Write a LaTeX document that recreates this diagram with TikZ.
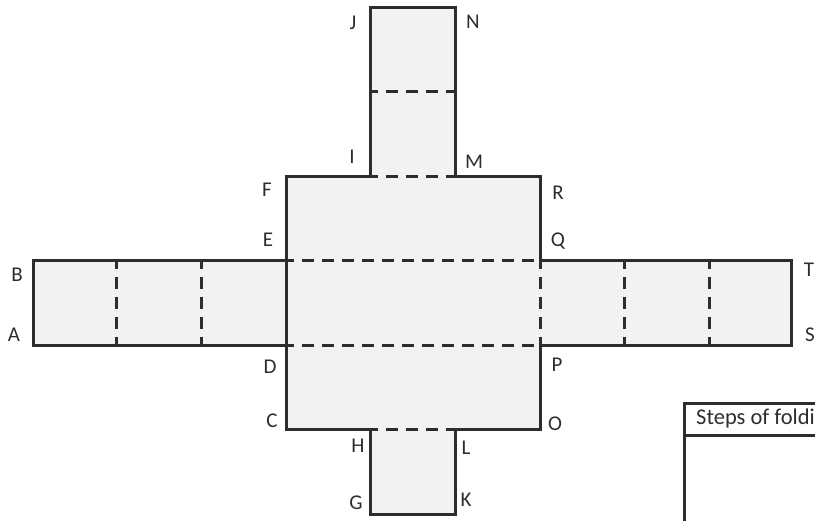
\documentclass[tikz,border=0pt]{standalone}
\usepackage{fontspec}
\setmainfont{Carlito}
\definecolor{netfill}{RGB}{242,242,242}
\definecolor{ink}{RGB}{45,45,45}
\tikzset{
  solidline/.style={draw=ink,line width=3pt,line cap=rect,line join=miter},
  foldline/.style={draw=ink,line width=3pt,dash pattern=on 12pt off 8pt,dash phase=4pt},
  panel/.style={fill=netfill,draw=none},
  lab/.style={font=\fontsize{21pt}{23pt}\selectfont,text=ink,inner sep=0pt,anchor=center},
  tablehead/.style={font=\fontsize{22.5pt}{25pt}\selectfont,text=ink,inner sep=0pt,anchor=west}
}
\begin{document}
\begin{tikzpicture}[x=1pt,y=-1pt]
\useasboundingbox (0,0) rectangle (815,521);
\clip (0,0) rectangle (815,521);
% corner points
\coordinate (A) at (33,346); \coordinate (B) at (33,261);
\coordinate (C) at (286,430); \coordinate (D) at (286,346);
\coordinate (E) at (286,261); \coordinate (F) at (286,177);
\coordinate (G) at (370,515); \coordinate (H) at (370,430);
\coordinate (I) at (370,177); \coordinate (J) at (370,8);
\coordinate (K) at (455,515); \coordinate (L) at (455,430);
\coordinate (M) at (455,177); \coordinate (N) at (455,8);
\coordinate (O) at (540,430); \coordinate (P) at (540,346);
\coordinate (Q) at (540,261); \coordinate (R) at (540,177);
\coordinate (S) at (791,346); \coordinate (T) at (791,261);
\coordinate (U1) at (116,261); \coordinate (U2) at (116,346);
\coordinate (V1) at (201,261); \coordinate (V2) at (201,346);
\coordinate (W1) at (624,261); \coordinate (W2) at (624,346);
\coordinate (X1) at (709,261); \coordinate (X2) at (709,346);
\coordinate (Y1) at (370,92); \coordinate (Y2) at (455,92);
% fills
\fill[panel] (J) rectangle (M);
\fill[panel] (F) rectangle (O);
\fill[panel] (B) rectangle (S);
\fill[panel] (H) rectangle (K);
% outline
\draw[solidline] (I) -- (J) -- (N) -- (M) -- (R) -- (Q) -- (T) -- (S) -- (P) -- (O) -- (L) -- (K) -- (G) -- (H) -- (C) -- (F) -- (I);
\draw[solidline] (E) -- (B) -- (A) -- (D);
% fold lines
\draw[foldline] (E) -- (Q);
\draw[foldline] (D) -- (P);
\draw[foldline] (Q) -- (P);
\draw[foldline] (U1) -- (U2);
\draw[foldline] (V1) -- (V2);
\draw[foldline] (W1) -- (W2);
\draw[foldline] (X1) -- (X2);
\draw[foldline] (Y1) -- (Y2);
\draw[foldline] (I) -- (M);
\draw[foldline] (H) -- (L);
% labels
\node[lab] (la) at (14,335) {A};
\node[lab] (lb) at (17,275) {B};
\node[lab] (lc) at (272,421) {C};
\node[lab] (ld) at (270,367) {D};
\node[lab] (le) at (268,240) {E};
\node[lab] (lf) at (267,190) {F};
\node[lab] (lg) at (356,503) {G};
\node[lab] (lh) at (358,446) {H};
\node[lab] (li) at (352,157) {I};
\node[lab] (lj) at (353,23) {J};
\node[lab] (lk) at (466,500) {K};
\node[lab] (ll) at (466,448) {L};
\node[lab] (lm) at (474,162) {M};
\node[lab] (ln) at (473,22) {N};
\node[lab] (lo) at (555,424) {O};
\node[lab] (lp) at (557,365) {P};
\node[lab] (lq) at (558,241) {Q};
\node[lab] (lr) at (558,193) {R};
\node[lab] (ls) at (810,335) {S};
\node[lab] (lt) at (809,270) {T};
% table
\coordinate (tl) at (684,404);
\coordinate (tr) at (830,404);
\coordinate (ml) at (684,436);
\coordinate (mr) at (830,436);
\coordinate (bl) at (684,530);
\draw[solidline] (bl) -- (tl) -- (tr);
\draw[solidline] (ml) -- (mr);
\node[tablehead] (steps) at (696,419) {Steps of foldi};
\end{tikzpicture}
\end{document}
